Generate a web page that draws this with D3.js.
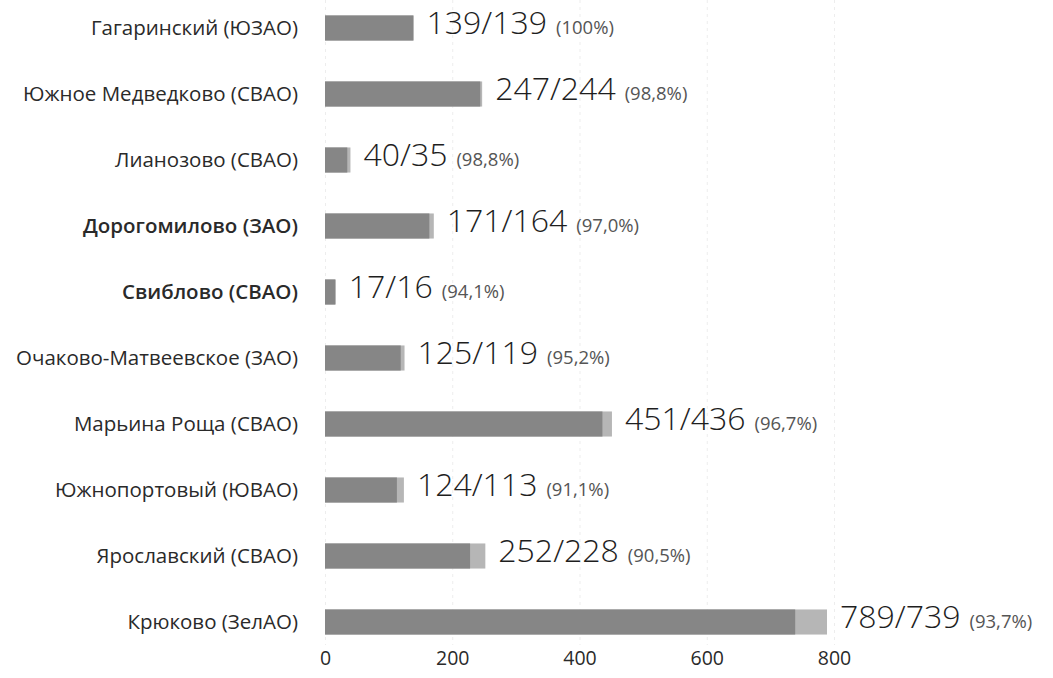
<!DOCTYPE html>
<html>
<head>
<meta charset="utf-8">
<script src="https://cdn.jsdelivr.net/npm/d3@7"></script>
<style>
  body { margin: 0; background: #fff; }
  text { font-family: "Open Sans", "DejaVu Sans", sans-serif; }
</style>
</head>
<body>
<div id="chart"></div>
<script>
var districts = ["Гагаринский (ЮЗАО)", "Южное Медведково (СВАО)", "Лианозово (СВАО)",
  "Дорогомилово (ЗАО)", "Свиблово (СВАО)", "Очаково-Матвеевское (ЗАО)", "Марьина Роща (СВАО)",
  "Южнопортовый (ЮВАО)", "Ярославский (СВАО)", "Крюково (ЗелАО)"];
var totals = [139, 247, 40, 171, 17, 125, 451, 124, 252, 789];
var done = [139, 244, 35, 164, 16, 119, 436, 113, 228, 739];
var percents = ["100%", "98,8%", "98,8%", "97,0%", "94,1%", "95,2%", "96,7%", "91,1%", "90,5%", "93,7%"];
var boldRows = ["Дорогомилово (ЗАО)", "Свиблово (СВАО)"];
var xTicks = [0, 200, 400, 600, 800];

var width = 1053, height = 678;
var margin = { top: 0, left: 325, right: 219, bottom: 50 };

var svg = d3.select("#chart").append("svg")
  .attr("width", width)
  .attr("height", height);

var x = d3.scaleLinear()
  .domain([0, 800])
  .range([margin.left, width - margin.right]);

var y = d3.scaleBand()
  .domain(districts)
  .range([-5, 655])
  .paddingInner(0.62)
  .paddingOuter(0.31);

// faint grid
svg.append("g")
  .selectAll("line")
  .data(xTicks)
  .join("line")
  .attr("x1", function(d) { return x(d) + 0.5; })
  .attr("x2", function(d) { return x(d) + 0.5; })
  .attr("y1", 0)
  .attr("y2", 645)
  .attr("stroke", "#ededed")
  .attr("stroke-dasharray", "3,4");

var axis = d3.axisBottom(x)
  .tickValues(xTicks)
  .tickSize(0)
  .tickPadding(0);

svg.append("g")
  .attr("class", "x-axis")
  .attr("transform", "translate(0,648)")
  .call(axis)
  .call(function(g) { g.select(".domain").remove(); })
  .selectAll("text")
  .attr("font-size", 19.5)
  .attr("fill", "#2a2a2a")
  .attr("dy", "0.85em");

var rows = svg.append("g")
  .selectAll("g")
  .data(districts)
  .join("g")
  .attr("transform", function(d) { return "translate(0," + y(d) + ")"; });

rows.append("rect")
  .attr("x", x(0))
  .attr("y", 0)
  .attr("width", function(d, i) { return x(totals[i]) - x(0); })
  .attr("height", y.bandwidth())
  .attr("fill", "#b6b6b6");

rows.append("rect")
  .attr("x", x(0))
  .attr("y", 0)
  .attr("width", function(d, i) { return x(done[i]) - x(0); })
  .attr("height", y.bandwidth())
  .attr("fill", "#868686");

rows.append("text")
  .attr("x", 298)
  .attr("y", y.bandwidth() / 2)
  .attr("dy", "0.35em")
  .attr("text-anchor", "end")
  .attr("font-size", 20.5)
  .attr("font-weight", function(d) { return boldRows.indexOf(d) >= 0 ? 600 : 400; })
  .attr("fill", "#2a2a2a")
  .text(function(d) { return d; });

var labels = rows.append("text")
  .attr("x", function(d, i) { return x(totals[i]) + 13; })
  .attr("y", y.bandwidth() / 2)
  .attr("dy", "0.36em");

labels.append("tspan")
  .attr("font-size", 32)
  .attr("font-weight", 300)
  .attr("fill", "#1e1e1e")
  .text(function(d, i) { return totals[i] + "/" + done[i]; });

labels.append("tspan")
  .attr("font-size", 18.5)
  .attr("fill", "#555")
  .attr("dx", 9)
  .text(function(d, i) { return "(" + percents[i] + ")"; });
</script>
</body>
</html>
